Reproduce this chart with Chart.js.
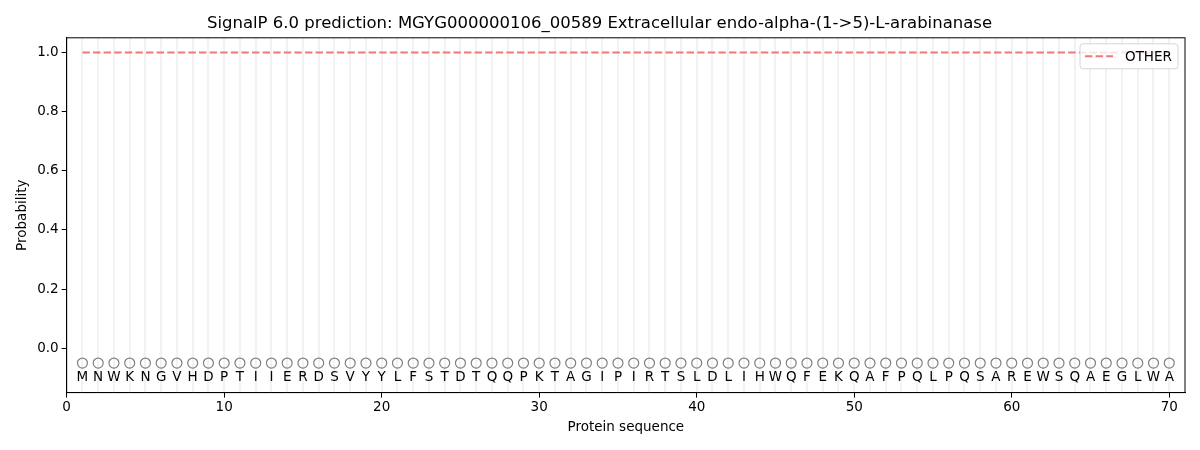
<!DOCTYPE html>
<html>
<head>
<meta charset="utf-8">
<script src="https://cdn.jsdelivr.net/npm/chart.js@4.4.0/dist/chart.umd.min.js"></script>
<style>
  html, body { margin: 0; padding: 0; background: #fff; }
  #wrap { width: 1200px; height: 450px; }
</style>
</head>
<body>
<div id="wrap"><canvas id="canvas" width="1200" height="450"></canvas></div>
<script>
const residues = ['M','N','W','K','N','G','V','H','D','P','T','I','I','E','R','D','S','V','Y','Y',
  'L','F','S','T','D','T','Q','Q','P','K','T','A','G','I','P','I','R','T','S','L',
  'D','L','I','H','W','Q','F','E','K','Q','A','F','P','Q','L','P','Q','S','A','R',
  'E','W','S','Q','A','E','G','L','W','A'];
const positions = residues.map((r, i) => i + 1);
const otherProb = positions.map(() => 1.0);
const labelState = residues.map(() => 'O');
const xTicks = [0, 10, 20, 30, 40, 50, 60, 70];
const yTicks = [0.0, 0.2, 0.4, 0.6, 0.8, 1.0];

const FONT = "'DejaVu Sans', sans-serif";
const ctx = document.getElementById('canvas');

// light vertical line at each residue, behind everything
const residueLines = {
  id: 'residueLines',
  beforeDatasetsDraw(chart) {
    const { ctx, chartArea, scales } = chart;
    ctx.save();
    ctx.strokeStyle = '#f2f2f2';
    ctx.lineWidth = 2;
    positions.forEach((p) => {
      const x = Math.round(scales.x.getPixelForValue(p));
      ctx.beginPath();
      ctx.moveTo(x, chartArea.top);
      ctx.lineTo(x, chartArea.bottom);
      ctx.stroke();
    });
    ctx.restore();
  },
};

// residue letters under the markers, box frame and legend
const extras = {
  id: 'extras',
  afterDatasetsDraw(chart) {
    const { ctx, chartArea, scales } = chart;
    ctx.save();
    ctx.fillStyle = '#000';
    ctx.font = '13.5px ' + FONT;
    ctx.textAlign = 'center';
    ctx.textBaseline = 'middle';
    residues.forEach((r, i) => {
      ctx.fillText(r, scales.x.getPixelForValue(positions[i]), scales.y.getPixelForValue(-0.1));
    });

    ctx.strokeStyle = '#000';
    ctx.lineWidth = 1;
    ctx.strokeRect(chartArea.left, chartArea.top, chartArea.right - chartArea.left, chartArea.bottom - chartArea.top);

    // legend
    const ds = chart.data.datasets[0];
    const w = 98, h = 25;
    const lx = chartArea.right - w - 7, ly = chartArea.top + 6;
    ctx.fillStyle = 'rgba(255,255,255,0.8)';
    ctx.strokeStyle = '#d6d6d6';
    ctx.lineWidth = 1;
    ctx.beginPath();
    ctx.roundRect(lx, ly, w, h, 3);
    ctx.fill();
    ctx.stroke();
    ctx.strokeStyle = ds.borderColor;
    ctx.lineWidth = 2;
    ctx.setLineDash([7.4, 3.2]);
    ctx.beginPath();
    ctx.moveTo(lx + 5, ly + h / 2);
    ctx.lineTo(lx + 33, ly + h / 2);
    ctx.stroke();
    ctx.setLineDash([]);
    ctx.fillStyle = '#000';
    ctx.font = '13.5px ' + FONT;
    ctx.textAlign = 'left';
    ctx.fillText(ds.label, lx + 45, ly + h / 2 + 1);
    ctx.restore();
  },
};

new Chart(ctx, {
  type: 'scatter',
  data: {
    datasets: [
      {
        label: 'OTHER',
        type: 'line',
        data: positions.map((p, i) => ({ x: p, y: otherProb[i] })),
        borderColor: 'rgba(240,120,120,1)',
        borderWidth: 2,
        borderDash: [7.4, 3.2],
        pointRadius: 0,
        fill: false,
      },
      {
        label: 'state',
        data: positions.map((p, i) => ({ x: p, y: -0.05, s: labelState[i] })),
        pointStyle: 'circle',
        pointRadius: 5,
        borderColor: 'rgba(128,128,128,1)',
        backgroundColor: 'rgba(0,0,0,0)',
        borderWidth: 1.2,
      },
    ],
  },
  options: {
    responsive: false,
    animation: false,
    layout: { padding: { left: 14, right: 15, top: 4, bottom: 14 } },
    plugins: {
      legend: { display: false },
      tooltip: { enabled: false },
      title: {
        display: true,
        text: 'SignalP 6.0 prediction: MGYG000000106_00589 Extracellular endo-alpha-(1->5)-L-arabinanase',
        color: '#000',
        font: { family: FONT, size: 16.5, weight: 'normal' },
        padding: { top: 10, bottom: 4 },
      },
    },
    scales: {
      x: {
        type: 'linear',
        min: 0,
        max: 71,
        afterBuildTicks: (axis) => { axis.ticks = xTicks.map((v) => ({ value: v })); },
        ticks: { color: '#000', font: { family: FONT, size: 13.5 }, maxRotation: 0, padding: 2 },
        grid: { display: true, drawOnChartArea: false, drawTicks: true, tickLength: 5, color: '#000' },
        border: { display: true, color: '#000' },
        title: { display: true, text: 'Protein sequence', color: '#000', font: { family: FONT, size: 13.5 }, padding: { top: 2, bottom: 0 } },
      },
      y: {
        min: -0.15,
        max: 1.05,
        afterBuildTicks: (axis) => { axis.ticks = yTicks.map((v) => ({ value: v })); },
        ticks: { color: '#000', font: { family: FONT, size: 13.5 }, padding: 3, callback: (v) => v.toFixed(1) },
        grid: { display: true, drawOnChartArea: false, tickLength: 5, color: '#000' },
        border: { display: true, color: '#000' },
        title: { display: true, text: 'Probability', color: '#000', font: { family: FONT, size: 13.5 }, padding: { top: 0, bottom: 4 } },
      },
    },
  },
  plugins: [residueLines, extras],
});
</script>
</body>
</html>
